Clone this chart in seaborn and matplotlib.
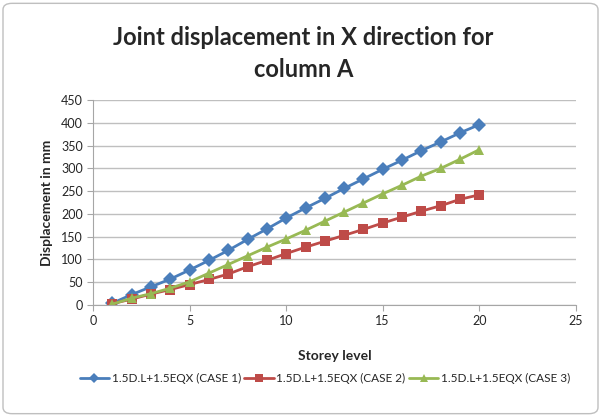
import pandas as pd
import matplotlib.pyplot as plt
import seaborn as sns
from matplotlib.patches import FancyBboxPatch

# Data
storey = list(range(1, 21))
case1 = [4, 23, 40, 57, 77, 98, 120, 144, 167, 191,
         213, 234, 256, 277, 298, 318, 339, 358, 378, 396]
case2 = [3, 13, 24, 34, 45, 56, 68, 84, 98, 113,
         127, 140, 153, 166, 180, 193, 206, 218, 232, 242]
case3 = [2, 15, 25, 37, 51, 70, 89, 108, 127, 145,
         164, 184, 204, 224, 244, 263, 283, 300, 320, 341]
labels = ["1.5D.L+1.5EQX (CASE 1)", "1.5D.L+1.5EQX (CASE 2)", "1.5D.L+1.5EQX (CASE 3)"]
colors = ["#4A7EBB", "#BE4B48", "#98B954"]
markers = ["D", "s", "^"]

df = pd.DataFrame({
    "Storey": storey * 3,
    "Disp": case1 + case2 + case3,
    "Case": [labels[0]] * 20 + [labels[1]] * 20 + [labels[2]] * 20,
})

sns.set_style("white")
plt.rcParams["font.family"] = ["Lato", "DejaVu Sans"]

fig = plt.figure(figsize=(6.01, 4.17), dpi=100)
ax = fig.add_axes([0.155, 0.2686, 0.803, 0.4914])

sns.lineplot(data=df, x="Storey", y="Disp", hue="Case", style="Case",
             palette=colors, markers=markers, dashes=False, linewidth=2,
             markersize=7, markeredgewidth=0, ax=ax)

ax.set_xlim(0, 25)
ax.set_ylim(0, 450)
ax.set_xticks(range(0, 26, 5))
ax.set_yticks(range(0, 451, 50))
ax.yaxis.grid(True, color="#BFBFBF", linewidth=1)
ax.xaxis.grid(False)
for s in ["top", "right"]:
    ax.spines[s].set_visible(False)
for s in ["left", "bottom"]:
    ax.spines[s].set_color("#A6A6A6")
ax.tick_params(axis="both", labelsize=9, length=4, direction="out",
               color="#A6A6A6", bottom=True, left=True)

ax.set_xlabel("Storey level", fontsize=10, fontweight="bold", labelpad=16)
ax.set_ylabel("Displacement in mm", fontsize=10, fontweight="bold", labelpad=6)
fig.text(0.505, 0.872, "Joint displacement in X direction for\ncolumn A",
         ha="center", va="center", fontsize=17, fontweight="bold",
         linespacing=1.45)

ax.legend(loc="upper center", bbox_to_anchor=(0.48, -0.31), ncol=3,
          frameon=False, fontsize=8.5, handlelength=2.5, handletextpad=0.2,
          columnspacing=0.3, borderaxespad=0, markerscale=0.75)

# light border round the whole chart
fig.patches.append(FancyBboxPatch((0.005, 0.008), 0.99, 0.984,
                                  boxstyle="round,pad=0,rounding_size=0.015",
                                  transform=fig.transFigure, fill=False,
                                  edgecolor="#BFBFBF", linewidth=1))

fig.savefig("out.png", dpi=100)
